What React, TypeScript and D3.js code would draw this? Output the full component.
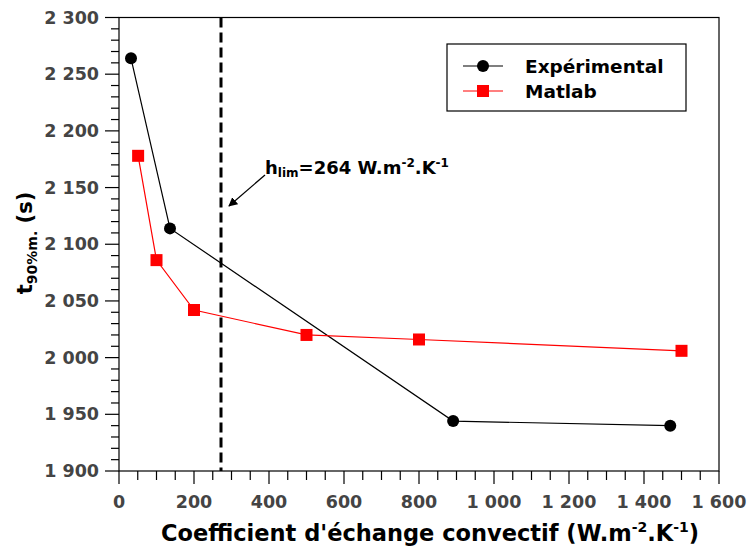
import * as d3 from "d3";
import { useEffect, useRef } from "react";

const expX = [32, 136, 891, 1470];
const expY = [2264, 2114, 1944, 1940];
const matX = [51, 100, 200, 500, 800, 1500];
const matY = [2178, 2086, 2042, 2020, 2016, 2006];
const xTicks = [0, 200, 400, 600, 800, 1000, 1200, 1400, 1600];
const yTicks = [1900, 1950, 2000, 2050, 2100, 2150, 2200, 2250, 2300];
const hLim = 272;
const seriesNames = ["Expérimental", "Matlab"];

const W = 749;
const H = 551;
const FONT = "DejaVu Sans, sans-serif";

const fmt = (v: number) => d3.format(",")(v).replace(/,/g, " ");

export default function App() {
  const ref = useRef<SVGSVGElement>(null);

  useEffect(() => {
    const svg = d3.select(ref.current);
    svg.selectAll("*").remove();

    const x = d3.scaleLinear().domain([0, 1600]).range([119, 719]);
    const y = d3.scaleLinear().domain([1900, 2300]).range([471, 17.5]);

    // frame
    svg.append("rect")
      .attr("x", 119).attr("y", 17.5)
      .attr("width", 600).attr("height", 453.5)
      .attr("fill", "none").attr("stroke", "#000").attr("stroke-width", 1.2);

    // y axis ticks
    const yMinor = d3.range(1900, 2301, 10).filter((v) => v % 50 !== 0);
    svg.append("g").selectAll("line").data(yMinor).join("line")
      .attr("x1", 111).attr("x2", 119)
      .attr("y1", (d) => y(d)).attr("y2", (d) => y(d))
      .attr("stroke", "#000").attr("stroke-width", 1.2);
    svg.append("g").selectAll("line").data(yTicks).join("line")
      .attr("x1", 105).attr("x2", 119)
      .attr("y1", (d) => y(d)).attr("y2", (d) => y(d))
      .attr("stroke", "#000").attr("stroke-width", 1.2);
    svg.append("g").selectAll("text").data(yTicks).join("text")
      .attr("x", 99).attr("y", (d) => y(d) + 6)
      .attr("text-anchor", "end")
      .attr("font-family", FONT).attr("font-weight", "bold")
      .attr("font-size", 17.5).attr("fill", "#444")
      .text((d) => fmt(d));

    // x axis ticks
    const xMinor = d3.range(0, 1601, 50).filter((v) => v % 200 !== 0);
    svg.append("g").selectAll("line").data(xMinor).join("line")
      .attr("x1", (d) => x(d)).attr("x2", (d) => x(d))
      .attr("y1", 471).attr("y2", 480)
      .attr("stroke", "#000").attr("stroke-width", 1.2);
    svg.append("g").selectAll("line").data(xTicks).join("line")
      .attr("x1", (d) => x(d)).attr("x2", (d) => x(d))
      .attr("y1", 471).attr("y2", 484)
      .attr("stroke", "#000").attr("stroke-width", 1.2);
    svg.append("g").selectAll("text").data(xTicks).join("text")
      .attr("x", (d) => x(d)).attr("y", 508)
      .attr("text-anchor", "middle")
      .attr("font-family", FONT).attr("font-weight", "bold")
      .attr("font-size", 17.5).attr("fill", "#444")
      .text((d) => fmt(d));

    // dashed limit line
    svg.append("line")
      .attr("x1", x(hLim)).attr("x2", x(hLim))
      .attr("y1", 17.5).attr("y2", 471)
      .attr("stroke", "#000").attr("stroke-width", 3)
      .attr("stroke-dasharray", "10,5");

    const line = d3.line<[number, number]>()
      .x((d) => x(d[0])).y((d) => y(d[1]));

    const exp = expX.map((v, i) => [v, expY[i]] as [number, number]);
    const mat = matX.map((v, i) => [v, matY[i]] as [number, number]);

    svg.append("path").datum(exp).attr("d", line)
      .attr("fill", "none").attr("stroke", "#000").attr("stroke-width", 1.2);
    svg.append("path").datum(mat).attr("d", line)
      .attr("fill", "none").attr("stroke", "red").attr("stroke-width", 1.2);

    svg.append("g").selectAll("circle").data(exp).join("circle")
      .attr("cx", (d) => x(d[0])).attr("cy", (d) => y(d[1]))
      .attr("r", 6).attr("fill", "#000");
    svg.append("g").selectAll("rect").data(mat).join("rect")
      .attr("x", (d) => x(d[0]) - 6).attr("y", (d) => y(d[1]) - 6)
      .attr("width", 12).attr("height", 12).attr("fill", "red");

    // legend
    const lg = svg.append("g");
    lg.append("rect")
      .attr("x", 447).attr("y", 44).attr("width", 239).attr("height", 67)
      .attr("fill", "#fff").attr("stroke", "#000").attr("stroke-width", 1.2);
    const colors = ["#000", "red"];
    seriesNames.forEach((name, i) => {
      const ly = 66 + i * 25;
      lg.append("line")
        .attr("x1", 463).attr("x2", 503).attr("y1", ly).attr("y2", ly)
        .attr("stroke", colors[i]).attr("stroke-width", 1.2);
      if (i === 0) {
        lg.append("circle").attr("cx", 483).attr("cy", ly).attr("r", 6).attr("fill", "#000");
      } else {
        lg.append("rect").attr("x", 477).attr("y", ly - 6)
          .attr("width", 12).attr("height", 12).attr("fill", "red");
      }
      lg.append("text")
        .attr("x", 525).attr("y", ly + 6.5)
        .attr("font-family", FONT).attr("font-weight", "bold")
        .attr("font-size", 18.5).attr("fill", "#000")
        .text(name);
    });

    // annotation
    const ann = svg.append("text")
      .attr("x", 265).attr("y", 174)
      .attr("font-family", FONT).attr("font-weight", "bold")
      .attr("font-size", 18).attr("fill", "#000");
    ann.append("tspan").text("h");
    ann.append("tspan").attr("font-size", 12).attr("dy", 3).text("lim");
    ann.append("tspan").attr("dy", -3).text("=264 W.m");
    ann.append("tspan").attr("font-size", 12).attr("dy", -7).text("-2");
    ann.append("tspan").attr("dy", 7).text(".K");
    ann.append("tspan").attr("font-size", 12).attr("dy", -7).text("-1");

    svg.append("defs").append("marker")
      .attr("id", "arr").attr("viewBox", "0 0 10 10")
      .attr("refX", 9).attr("refY", 5)
      .attr("markerWidth", 7).attr("markerHeight", 7)
      .attr("orient", "auto")
      .append("path").attr("d", "M0,0 L10,5 L0,10 z").attr("fill", "#000");
    svg.append("line")
      .attr("x1", 265).attr("y1", 175).attr("x2", 229).attr("y2", 206)
      .attr("stroke", "#000").attr("stroke-width", 1.3)
      .attr("marker-end", "url(#arr)");

    // axis titles
    const xt = svg.append("text")
      .attr("x", 430).attr("y", 541).attr("text-anchor", "middle")
      .attr("font-family", FONT).attr("font-weight", "bold")
      .attr("font-size", 22.5).attr("fill", "#000");
    xt.append("tspan").text("Coefficient d'échange convectif (W.m");
    xt.append("tspan").attr("font-size", 14).attr("dy", -9).text("-2");
    xt.append("tspan").attr("dy", 9).text(".K");
    xt.append("tspan").attr("font-size", 14).attr("dy", -9).text("-1");
    xt.append("tspan").attr("dy", 9).text(")");

    const yt = svg.append("text")
      .attr("transform", "translate(32,243) rotate(-90)")
      .attr("text-anchor", "middle")
      .attr("font-family", FONT).attr("font-weight", "bold")
      .attr("font-size", 21).attr("fill", "#000");
    yt.append("tspan").text("t");
    yt.append("tspan").attr("font-size", 14).attr("dy", 5).text("90%m.");
    yt.append("tspan").attr("dy", -5).text(" (s)");
  }, []);

  return (
    <svg
      ref={ref}
      width={W}
      height={H}
      style={{ position: "absolute", left: 0, top: 0, background: "#fff" }}
    />
  );
}
